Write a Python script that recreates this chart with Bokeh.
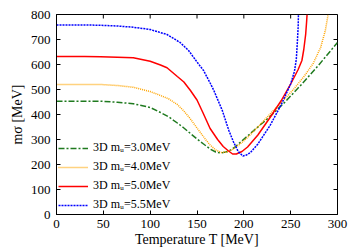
from bokeh.plotting import figure
from bokeh.models import Range1d, FixedTicker, Legend, LegendItem
from bokeh.embed import file_html
from bokeh.resources import INLINE

# ---- data ----
t_30 = [0, 30, 47, 65, 82, 100, 111, 120, 129, 136, 143, 150, 157, 164, 170, 176,
        183, 190, 196, 210, 228, 244, 260, 280, 300]
m_30 = [453, 453, 453, 449, 443, 428, 408, 390, 366, 346, 324, 302, 282, 262, 250, 246,
        252, 268, 288, 334, 392, 450, 514, 598, 688]

t_40 = [0, 30, 47, 65, 82, 100, 111, 120, 129, 136, 143, 150, 154, 160, 164, 170, 176,
        182, 188, 196, 204, 215, 228, 240, 253, 265, 274, 282, 287, 290]
m_40 = [520, 520, 520, 516, 509, 492, 476, 462, 440, 414, 382, 346, 326, 296, 278, 258, 248,
        250, 260, 282, 308, 350, 402, 448, 500, 556, 604, 668, 736, 800]

t_50 = [0, 30, 47, 65, 82, 100, 111, 118, 129, 136, 143, 150, 156, 164, 172, 178, 183,
        188, 192, 198, 204, 215, 228, 240, 250, 258, 262, 264, 266, 267, 267.5]
m_50 = [632, 632, 631, 629, 627, 613, 598, 587, 552, 530, 496, 458, 410, 344, 300, 272, 256,
        242, 242, 252, 270, 318, 388, 456, 522, 580, 616, 660, 720, 770, 800]

t_55 = [0, 30, 47, 65, 82, 100, 118, 132, 141, 150, 157, 164, 168, 177, 184, 189, 194,
        199, 203, 207, 215, 228, 240, 250, 254, 256, 257, 258, 258.3]
m_55 = [758, 758, 757, 754, 749, 740, 720, 688, 656, 610, 576, 526, 496, 416, 336, 290, 252,
        234, 238, 248, 282, 356, 440, 522, 572, 620, 680, 750, 800]

labels = ["3D m\u1d64=3.0MeV", "3D m\u1d64=4.0MeV", "3D m\u1d64=5.0MeV", "3D m\u1d64=5.5MeV"]
x_ticks = [0, 50, 100, 150, 200, 250, 300]
y_ticks = [0, 100, 200, 300, 400, 500, 600, 700, 800]
x_lo, x_hi = 0, 300
y_lo, y_hi = 0, 800

FONT = "Liberation Serif"

p = figure(width=350, height=250, output_backend="svg", toolbar_location=None,
           x_range=Range1d(x_lo, x_hi), y_range=Range1d(y_lo, y_hi),
           min_border_left=56, min_border_right=13, min_border_top=14, min_border_bottom=36)

p.xgrid.visible = False
p.ygrid.visible = False
p.outline_line_color = "black"
p.outline_line_width = 1
p.background_fill_color = "white"

r1 = p.line(t_30, m_30, line_color="#1f7a1f", line_width=1.5, line_dash="6 2 2 2")
r2 = p.line(t_40, m_40, line_color="#ffa500", line_width=1.5, line_dash="1 1")
r3 = p.line(t_50, m_50, line_color="#ff0000", line_width=1.5)
r4 = p.line(t_55, m_55, line_color="#0000ff", line_width=1.5, line_dash="2 1")

for ax, ticks in ((p.xaxis[0], x_ticks), (p.yaxis[0], y_ticks)):
    ax.ticker = FixedTicker(ticks=ticks)
    ax.major_tick_in = 4
    ax.major_tick_out = 0
    ax.minor_tick_line_color = None
    ax.axis_line_color = "black"
    ax.major_tick_line_color = "black"
    ax.major_label_text_font = FONT
    ax.major_label_text_font_size = "13px"
    ax.major_label_text_color = "black"
    ax.axis_label_text_font = FONT
    ax.axis_label_text_font_size = "14px"
    ax.axis_label_text_font_style = "normal"
    ax.axis_label_text_color = "black"

p.xaxis.axis_label = "Temperature T [MeV]"
p.yaxis.axis_label = "m\u03c3 [MeV]"
p.xaxis.major_label_standoff = 5
p.xaxis.axis_label_standoff = 1
p.yaxis.major_label_standoff = 6
p.yaxis.axis_label_standoff = 3

# mirrored inward ticks on the top and right frame edges (4 px long)
tick_dy = 4 * (y_hi - y_lo) / 200
tick_dx = 4 * (x_hi - x_lo) / 281
p.segment(x0=x_ticks, y0=[y_hi] * len(x_ticks), x1=x_ticks, y1=[y_hi - tick_dy] * len(x_ticks),
          line_color="black", line_width=1)
p.segment(x0=[x_hi] * len(y_ticks), y0=y_ticks, x1=[x_hi - tick_dx] * len(y_ticks), y1=y_ticks,
          line_color="black", line_width=1)

legend = Legend(items=[LegendItem(label=labels[0], renderers=[r1]),
                       LegendItem(label=labels[1], renderers=[r2]),
                       LegendItem(label=labels[2], renderers=[r3]),
                       LegendItem(label=labels[3], renderers=[r4])],
                location="bottom_left")
legend.label_text_font = FONT
legend.label_text_font_size = "12px"
legend.label_text_color = "black"
legend.border_line_color = None
legend.background_fill_alpha = 0
legend.glyph_width = 30
legend.glyph_height = 14
legend.label_height = 14
legend.spacing = 4
legend.padding = 3
legend.margin = 2
legend.label_standoff = 5
p.add_layout(legend)

open("out.html", "w").write(file_html(p, INLINE))
